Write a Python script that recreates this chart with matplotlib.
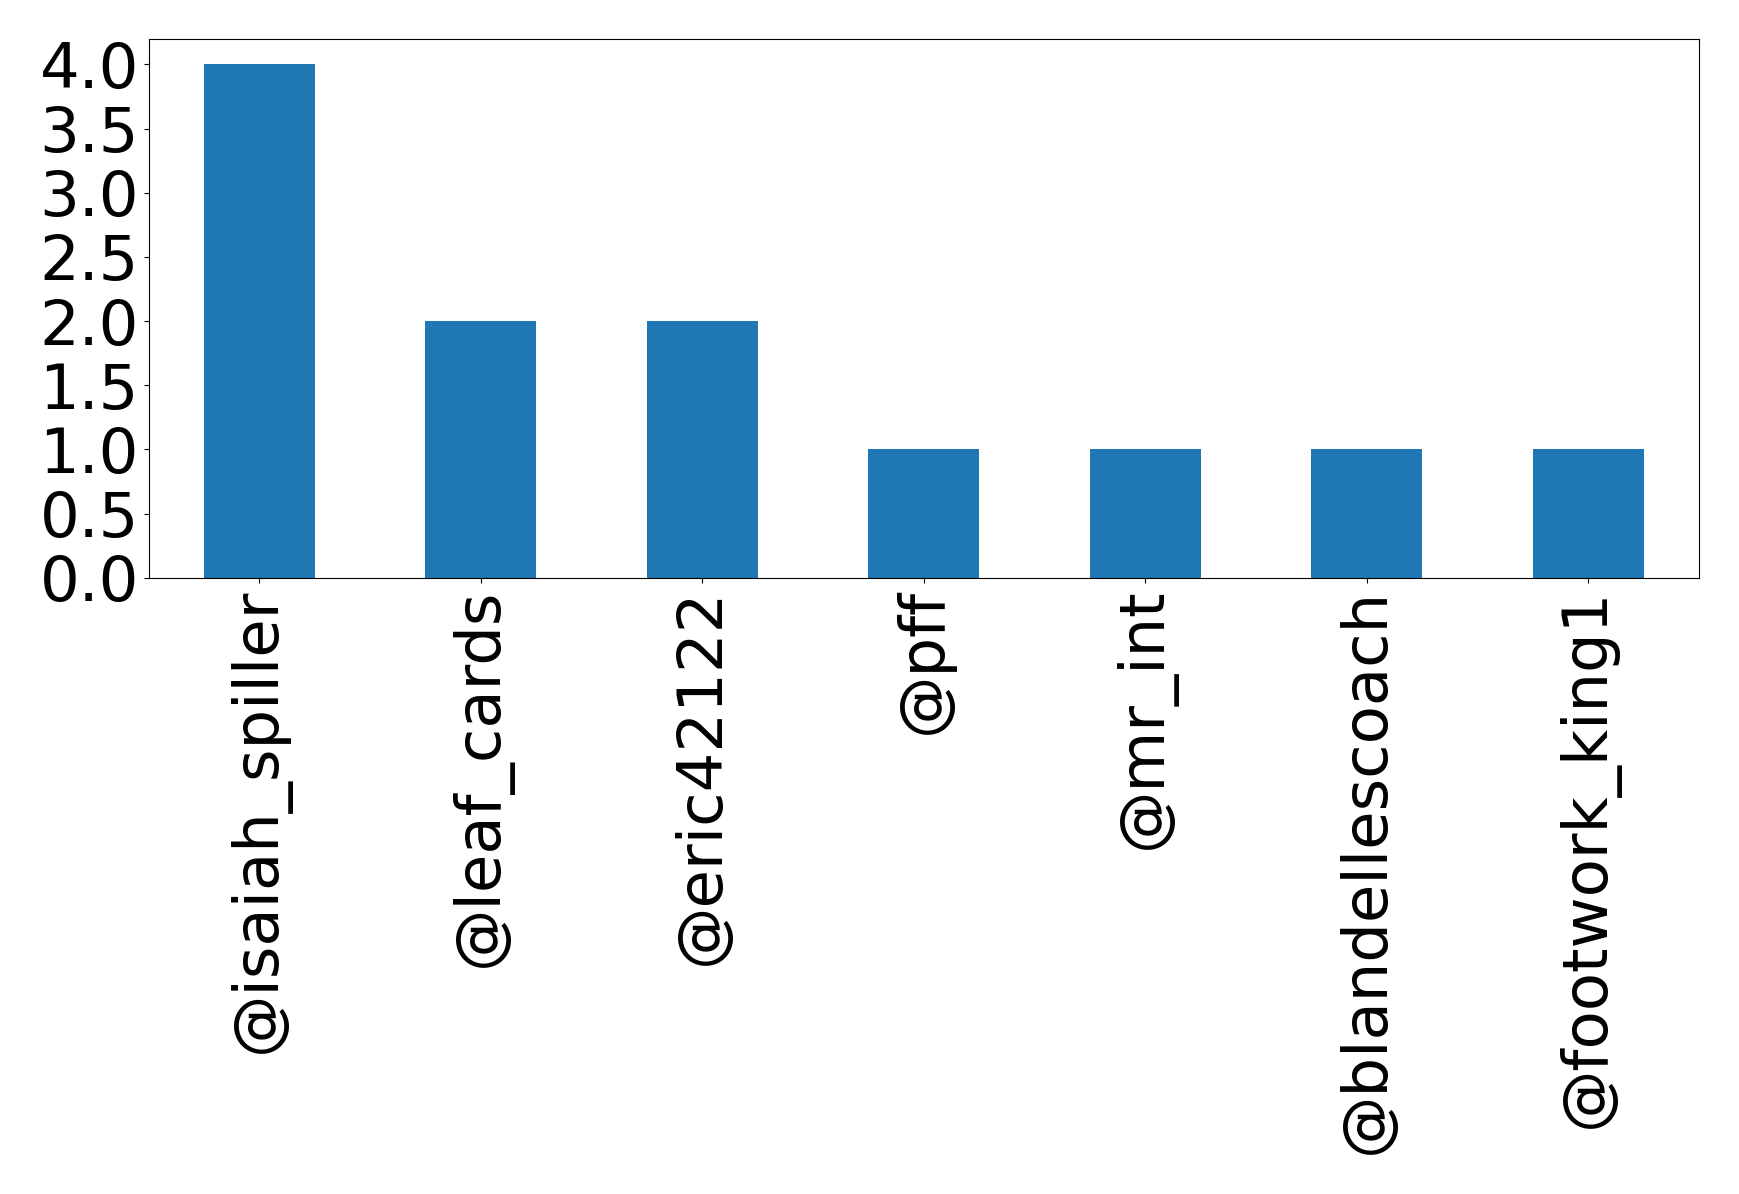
import pandas as pd
import matplotlib
matplotlib.use("Agg")
import matplotlib.pyplot as plt

users = ["@isaiah_spiller", "@leaf_cards", "@eric42122", "@pff",
         "@mr_int", "@blandellescoach", "@footwork_king1"]
counts = [4, 2, 2, 1, 1, 1, 1]

fig = plt.figure(figsize=(17.39, 11.94), dpi=100)
ax = fig.add_subplot(111)
pd.Series(counts, index=users).plot(kind="bar", ax=ax, fontsize=45)
fig.subplots_adjust(left=148.6 / 1739, right=1699 / 1739,
                    top=1 - 38.8 / 1194, bottom=1 - 577.8 / 1194)
fig.savefig("out.png", dpi=100)
